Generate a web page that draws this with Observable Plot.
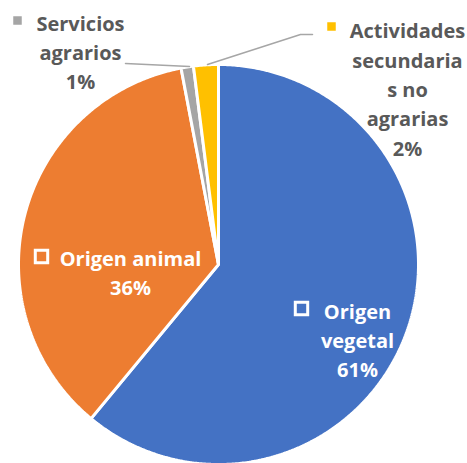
<!DOCTYPE html>
<html><head><meta charset="utf-8">
<script src="https://cdn.jsdelivr.net/npm/d3@7"></script>
<script src="https://cdn.jsdelivr.net/npm/@observablehq/plot@0.6"></script>
<style>body{margin:0;background:#fff} svg{display:block}</style>
</head><body><div id="chart"></div>
<script>
// ---- data ----
const categories = ["Origen vegetal", "Origen animal", "Servicios agrarios", "Actividades secundarias no agrarias"];
const values = [61, 36, 1, 2];
const percentLabels = ["61%", "36%", "1%", "2%"];
const labelLines = [["Origen", "vegetal"], ["Origen animal"], ["Servicios", "agrarios"], ["Actividades", "secundaria", "s no", "agrarias"]];
const colors = ["#4472C4", "#ED7D31", "#A5A5A5", "#FFC000"];

// ---- layout ----
const W = 467, H = 463, CX = 218, CY = 264, R = 200;
const labelPos = [
  {x: 357, y: 338, fill: "white", mx: 301, my: 308, hollow: true},
  {x: 130, y: 270.5, fill: "white", mx: 41, my: 256, hollow: true},
  {x: 80, y: 50, fill: "#595959", mx: 17, my: 20, hollow: false},
  {x: 407, y: 87, fill: "#595959", mx: 331, my: 26, hollow: false}
];
const leaders = [
  {cat: categories[2], pts: [[125, 63], [189, 66]]},
  {cat: categories[3], pts: [[312, 34], [300, 34], [207, 64]]}
];

// ---- geometry from data ----
const arcs = d3.pie().sort(null).value(d => d.value)(categories.map((c, i) => ({cat: c, value: values[i]})));
const slicePts = [];
arcs.forEach(p => {
  slicePts.push({cat: p.data.cat, x: CX, y: CY});
  const n = Math.max(4, Math.ceil((p.endAngle - p.startAngle) / (Math.PI / 360)));
  for (let k = 0; k <= n; k++) {
    const a = p.startAngle + (p.endAngle - p.startAngle) * k / n;
    slicePts.push({cat: p.data.cat, x: CX + R * Math.sin(a), y: CY - R * Math.cos(a)});
  }
});

const labels = categories.map((c, i) => ({
  cat: c,
  text: labelLines[i].concat([percentLabels[i]]).join("\n"),
  ...labelPos[i]
}));
const leaderPts = leaders.flatMap(l => l.pts.map(([x, y]) => ({cat: l.cat, x, y})));

const font = "'Open Sans', sans-serif";
const chart = Plot.plot({
  width: W, height: H,
  margin: 0,
  x: {domain: [0, W], range: [0, W], axis: null},
  y: {domain: [0, H], range: [0, H], axis: null},
  color: {domain: categories, range: colors},
  style: {fontFamily: font, background: "white"},
  marks: [
    Plot.line(slicePts, {x: "x", y: "y", z: "cat", fill: "cat", stroke: "white", strokeWidth: 3, strokeLinejoin: "miter", curve: "linear-closed"}),
    Plot.line(leaderPts, {x: "x", y: "y", z: "cat", stroke: "#A6A6A6", strokeWidth: 1.5}),
    Plot.text(labels.filter(d => d.fill === "white"), {x: "x", y: "y", text: "text", fill: "white", fontSize: 20, fontWeight: "bold", lineHeight: 1.47, fontFamily: font}),
    Plot.text(labels.filter(d => d.fill !== "white"), {x: "x", y: "y", text: "text", fill: "#595959", fontSize: 20, fontWeight: "bold", lineHeight: 1.47, fontFamily: font}),
    Plot.dot(labels.filter(d => d.hollow), {x: "mx", y: "my", symbol: "square", r: 7, stroke: "white", strokeWidth: 3, fill: "none"}),
    Plot.dot(labels.filter(d => !d.hollow), {x: "mx", y: "my", symbol: "square", r: 4.8, fill: "cat", stroke: "none"})
  ]
});
document.getElementById("chart").append(chart);
</script>
</body></html>
